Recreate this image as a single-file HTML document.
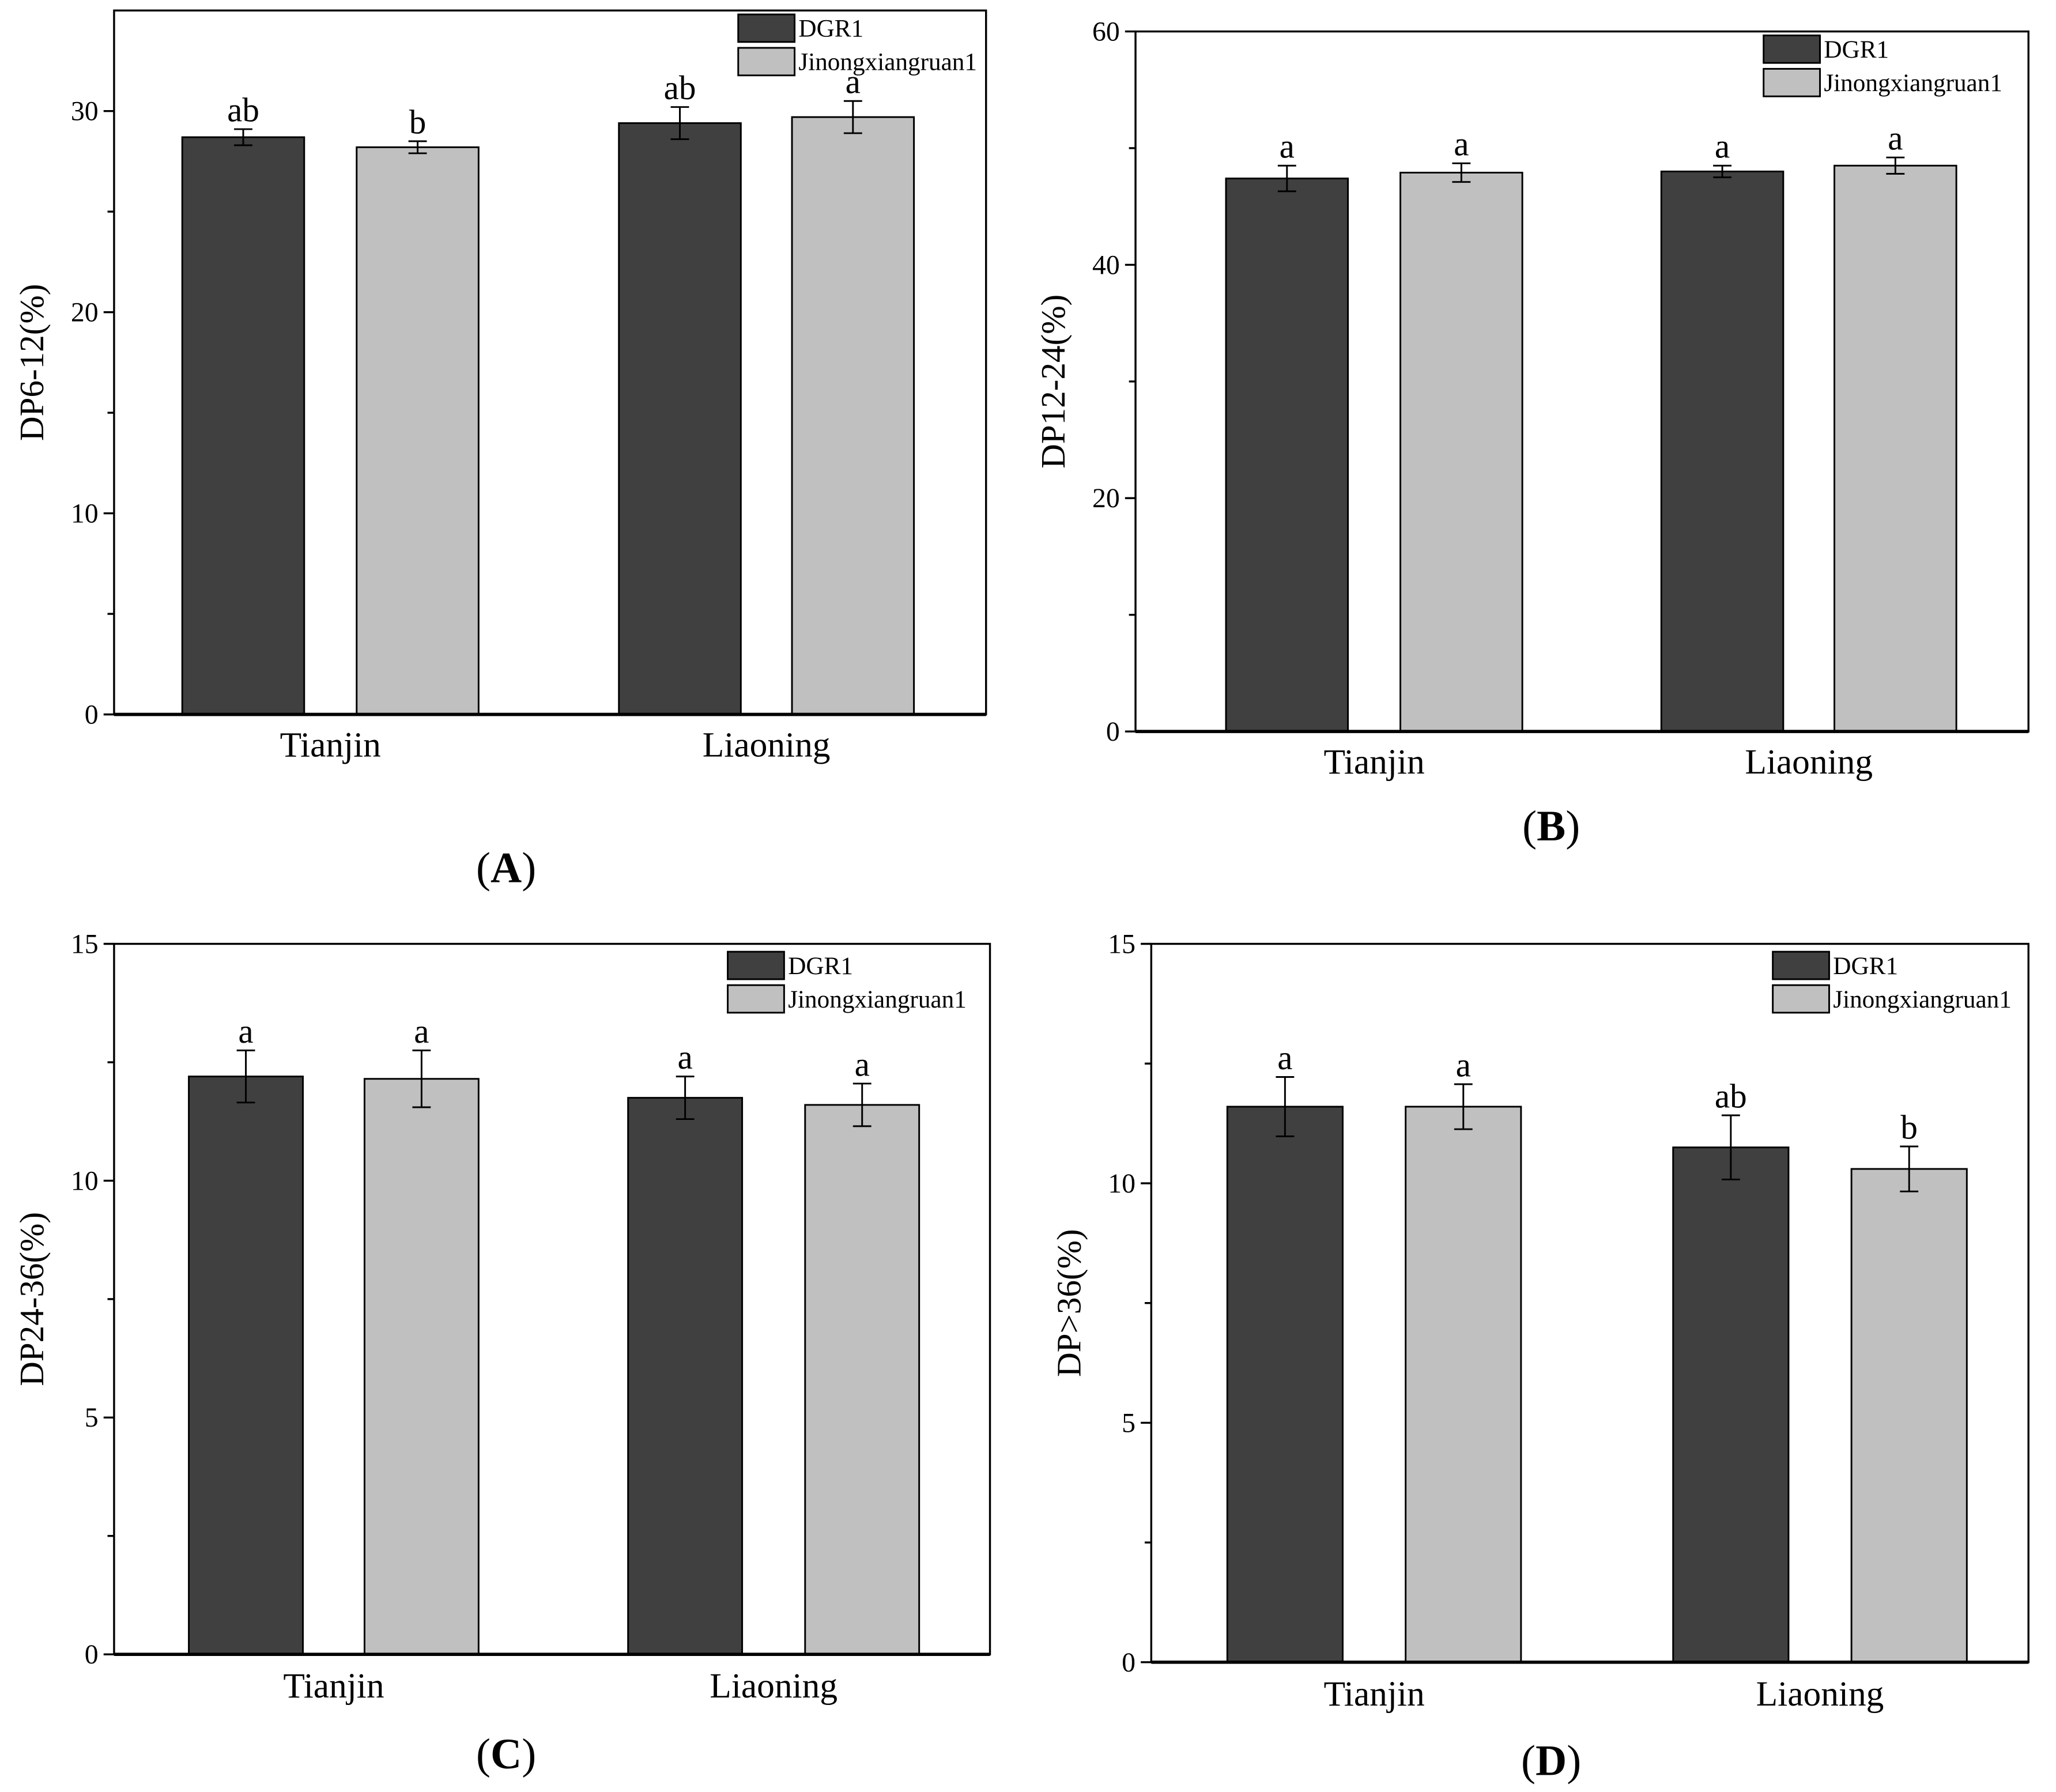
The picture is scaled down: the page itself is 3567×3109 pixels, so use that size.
<!DOCTYPE html>
<html><head><meta charset="utf-8"><style>
html,body{margin:0;padding:0;background:#fff;}
svg{display:block;}
svg text{font-family:"Liberation Serif","Times New Roman",serif !important;fill:#000;}
</style></head>
<body>
<svg id="fig" xmlns="http://www.w3.org/2000/svg" width="3567" height="3109" viewBox="0 0 1568 1367" preserveAspectRatio="none" font-family="Liberation Serif, serif"></svg>
<script>
const categories = ["Tianjin","Liaoning"];
const seriesNames = ["DGR1","Jinongxiangruan1"];
const aDGR = [28.7, 29.4];
const aJin = [28.2, 29.7];
const aErrDGR = [0.4, 0.8];
const aErrJin = [0.3, 0.8];
const aLetDGR = ["ab","ab"];
const aLetJin = ["b","a"];
const aTicks = [0,10,20,30];
const bDGR = [47.4, 48.0];
const bJin = [47.9, 48.5];
const bErrDGR = [1.1, 0.5];
const bErrJin = [0.8, 0.7];
const bLetDGR = ["a","a"];
const bLetJin = ["a","a"];
const bTicks = [0,20,40,60];
const cDGR = [12.2, 11.75];
const cJin = [12.15, 11.6];
const cErrDGR = [0.55, 0.45];
const cErrJin = [0.6, 0.45];
const cLetDGR = ["a","a"];
const cLetJin = ["a","a"];
const cTicks = [0,5,10,15];
const dDGR = [11.6, 10.75];
const dJin = [11.6, 10.3];
const dErrDGR = [0.62, 0.67];
const dErrJin = [0.47, 0.47];
const dLetDGR = ["a","ab"];
const dLetJin = ["a","b"];
const dTicks = [0,5,10,15];

const NS="http://www.w3.org/2000/svg";
const svg=document.getElementById('fig');
function mk(tag,attrs,parent){const e=document.createElementNS(NS,tag);for(const k in attrs)e.setAttribute(k,attrs[k]);if(tag==='text')e.setAttribute('font-family','Liberation Serif, serif');(parent||svg).appendChild(e);return e;}

function panel(p){
  const g=mk('g',{});
  
  
  const y=v=>p.bottom-(v-0)/(p.max)*(p.bottom-p.top);
  p.ticks.forEach(t=>{
    const l=mk('line',{x1:p.left-8,x2:p.left,y1:y(t),y2:y(t),stroke:'#000','stroke-width':1.5},g);
    
    
    const tx=mk('text',{x:p.left-12,y:y(t)+7,'text-anchor':'end','font-size':21},g);
    tx.textContent=t;
    
    
  });
  for(let i=0;i<p.ticks.length-1;i++){
    const m=(p.ticks[i]+p.ticks[i+1])/2;
    mk('line',{x1:p.left-5,x2:p.left,y1:y(m),y2:y(m),stroke:'#000','stroke-width':1.5},g);
  }
  const sets=[[p.dgr,p.edgr,p.ldgr,'#404040',p.xd],[p.jin,p.ejin,p.ljin,'#c0c0c0',p.xj]];
  sets.forEach((s,si)=>{
    s[0].forEach((v,i)=>{
      const x0=s[4][i];
      const r=mk('rect',{x:x0,y:y(v),width:p.bw,height:p.bottom-y(v),fill:s[3],stroke:'#000','stroke-width':1.3},g);
      
      
      const cx=x0+p.bw/2, e=s[1][i];
      const eb=mk('path',{d:`M${cx-7},${y(v+e)}H${cx+7}M${cx},${y(v+e)}V${y(v-e)}M${cx-7},${y(v-e)}H${cx+7}`,stroke:'#000','stroke-width':1.3,fill:'none'},g);
      
      
      const lt=mk('text',{x:cx,y:y(v+e)-6,'text-anchor':'middle','font-size':26},g);
      lt.textContent=s[2][i];
      
      
    });
  });
  const fr=mk('rect',{x:p.left,y:p.top,width:p.right-p.left,height:p.bottom-p.top,fill:'none',stroke:'#000','stroke-width':1.5},g);
  
  
  mk('line',{x1:p.left,x2:p.right,y1:p.bottom,y2:p.bottom,stroke:'#000','stroke-width':2.5},g);
  categories.forEach((c,i)=>{
    const cx=(p.xd[i]+p.xj[i]+p.bw)/2;
    const t=mk('text',{x:cx,y:p.catY,'text-anchor':'middle','font-size':27},g);
    t.textContent=c;
    
    
  });
  const yt=mk('text',{x:0,y:0,'text-anchor':'middle','font-size':26,transform:`translate(${p.left-54},${(p.top+p.bottom)/2}) rotate(-90)`},g);
  yt.textContent=p.title;
  
  
  const lg=mk('g',{},g);
  
  
  ['#404040','#c0c0c0'].forEach((col,i)=>{
    mk('rect',{x:p.legX,y:p.legY+i*25.5,width:43,height:21,fill:col,stroke:'#000','stroke-width':1.3},lg);
    const t=mk('text',{x:p.legX+46,y:p.legY+i*25.5+17,'font-size':19},lg);
    t.textContent=seriesNames[i];
    
    
  });
  const pl=mk('text',{x:p.labX,y:p.labY,'text-anchor':'middle','font-size':33},g);
  pl.innerHTML='(<tspan font-weight="bold">'+p.id+'</tspan>)';
  
  
}

panel({id:'A',left:87,right:752,top:8,bottom:545,max:35,ticks:aTicks,bw:93,xd:[139,472],xj:[272,604],
  dgr:aDGR,jin:aJin,edgr:aErrDGR,ejin:aErrJin,ldgr:aLetDGR,ljin:aLetJin,catY:577,title:'DP6-12(%)',legX:563,legY:11,labX:386,labY:673});
panel({id:'B',left:866,right:1547,top:24,bottom:558,max:60,ticks:bTicks,bw:93,xd:[935,1267],xj:[1068,1399],
  dgr:bDGR,jin:bJin,edgr:bErrDGR,ejin:bErrJin,ldgr:bLetDGR,ljin:bLetJin,catY:590,title:'DP12-24(%)',legX:1345,legY:27,labX:1183,labY:641});
panel({id:'C',left:87,right:755,top:720,bottom:1262,max:15,ticks:cTicks,bw:87,xd:[144,479],xj:[278,614],
  dgr:cDGR,jin:cJin,edgr:cErrDGR,ejin:cErrJin,ldgr:cLetDGR,ljin:cLetJin,catY:1295,title:'DP24-36(%)',legX:555,legY:726,labX:386,labY:1349});
panel({id:'D',left:878,right:1547,top:720,bottom:1268,max:15,ticks:dTicks,bw:88,xd:[936,1276],xj:[1072,1412],
  dgr:dDGR,jin:dJin,edgr:dErrDGR,ejin:dErrJin,ldgr:dLetDGR,ljin:dLetJin,catY:1301,title:'DP>36(%)',legX:1352,legY:726,labX:1183,labY:1354});
</script>
</body></html>
